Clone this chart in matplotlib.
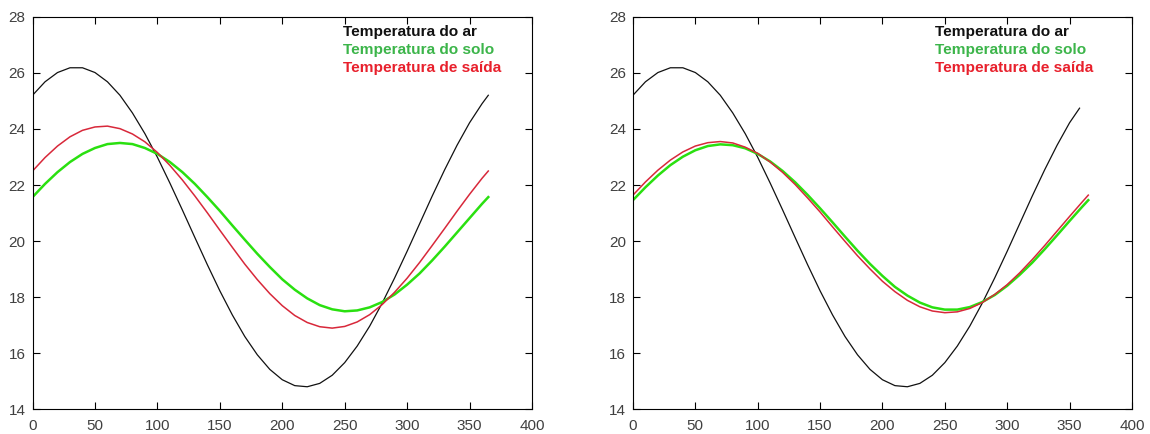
import matplotlib
matplotlib.use("Agg")
import matplotlib.pyplot as plt

plt.rcParams["font.family"] = ["Liberation Sans", "DejaVu Sans"]

# Day of year (sampled every 10 days, plus the last day)
days = [0, 10, 20, 30, 40, 50, 60, 70, 80, 90, 100, 110, 120, 130, 140, 150, 160,
        170, 180, 190, 200, 210, 220, 230, 240, 250, 260, 270, 280, 290, 300, 310,
        320, 330, 340, 350, 360, 365]
days_air_b = days[:-2] + [358]

# Left panel
air_a = [25.20, 25.68, 26.01, 26.18, 26.18, 26.01, 25.68, 25.20, 24.57, 23.83,
         22.99, 22.07, 21.11, 20.13, 19.16, 18.23, 17.37, 16.60, 15.95, 15.43,
         15.06, 14.85, 14.81, 14.93, 15.22, 15.67, 16.26, 16.97, 17.79, 18.69,
         19.64, 20.62, 21.60, 22.54, 23.42, 24.22, 24.90, 25.20]
soil_a = [21.57, 22.04, 22.46, 22.82, 23.11, 23.32, 23.46, 23.50, 23.46, 23.32,
          23.11, 22.82, 22.46, 22.04, 21.57, 21.08, 20.56, 20.05, 19.55, 19.08,
          18.64, 18.27, 17.96, 17.72, 17.57, 17.50, 17.53, 17.64, 17.83, 18.10,
          18.45, 18.85, 19.31, 19.80, 20.31, 20.82, 21.33, 21.57]
exit_a = [22.50, 22.98, 23.39, 23.72, 23.95, 24.07, 24.10, 24.01, 23.82, 23.54,
          23.16, 22.70, 22.18, 21.61, 21.01, 20.39, 19.78, 19.18, 18.63, 18.13,
          17.70, 17.35, 17.10, 16.95, 16.90, 16.96, 17.12, 17.38, 17.74, 18.18,
          18.68, 19.24, 19.84, 20.45, 21.07, 21.67, 22.24, 22.50]

# Right panel
air_b = [25.20, 25.68, 26.01, 26.18, 26.18, 26.01, 25.68, 25.20, 24.57, 23.83,
         22.99, 22.07, 21.11, 20.13, 19.16, 18.23, 17.37, 16.60, 15.95, 15.43,
         15.06, 14.85, 14.81, 14.93, 15.22, 15.67, 16.26, 16.97, 17.79, 18.69,
         19.64, 20.62, 21.60, 22.54, 23.42, 24.22, 24.74]
soil_b = [21.46, 21.92, 22.34, 22.71, 23.01, 23.24, 23.39, 23.45, 23.42, 23.31,
          23.11, 22.84, 22.50, 22.10, 21.65, 21.17, 20.67, 20.16, 19.66, 19.19,
          18.76, 18.37, 18.06, 17.81, 17.64, 17.56, 17.56, 17.65, 17.83, 18.08,
          18.41, 18.80, 19.23, 19.71, 20.21, 20.72, 21.22, 21.46]
exit_b = [21.64, 22.11, 22.53, 22.89, 23.18, 23.39, 23.51, 23.55, 23.50, 23.35,
          23.13, 22.82, 22.45, 22.02, 21.54, 21.04, 20.51, 19.99, 19.48, 19.01,
          18.57, 18.20, 17.89, 17.66, 17.51, 17.45, 17.48, 17.60, 17.81, 18.10,
          18.45, 18.87, 19.34, 19.84, 20.36, 20.88, 21.39, 21.64]

labels = ["Temperatura do ar", "Temperatura do solo", "Temperatura de saída"]
label_colors = ["#111111", "#3cb54a", "#e8202c"]
x_ticks = [0, 50, 100, 150, 200, 250, 300, 350, 400]
y_ticks = [14, 16, 18, 20, 22, 24, 26, 28]

fig = plt.figure(figsize=(11.5, 4.34), dpi=100)
ax1 = fig.add_axes([0.0283, 0.0565, 0.4343, 0.905])
ax2 = fig.add_axes([0.5504, 0.0565, 0.4339, 0.905])


def draw(ax, xa, air, soil, out, legend_x):
    ax.plot(xa, air, color="#111111", lw=0.9)
    ax.plot(days, soil, color="#2ae010", lw=1.8)
    ax.plot(days, out, color="#d8283a", lw=1.1)
    ax.set_xlim(0, 400)
    ax.set_ylim(14, 28)
    ax.set_xticks(x_ticks)
    ax.set_yticks(y_ticks)
    ax.tick_params(direction="in", length=5, width=0.8, top=True, right=True,
                   labelsize=11, labelcolor="#404040")
    ax.tick_params(axis="x", pad=6.5)
    ax.tick_params(axis="y", pad=5)
    for s in ax.spines.values():
        s.set_linewidth(0.8)
    for i, (lab, col) in enumerate(zip(labels, label_colors)):
        ax.text(legend_x, 0.962 - i * 0.0466, lab, transform=ax.transAxes,
                color=col, fontsize=11.1, fontweight="bold", va="center", ha="left")


draw(ax1, days, air_a, soil_a, exit_a, 0.622)
draw(ax2, days_air_b, air_b, soil_b, exit_b, 0.605)

fig.savefig("out.png", dpi=100)
